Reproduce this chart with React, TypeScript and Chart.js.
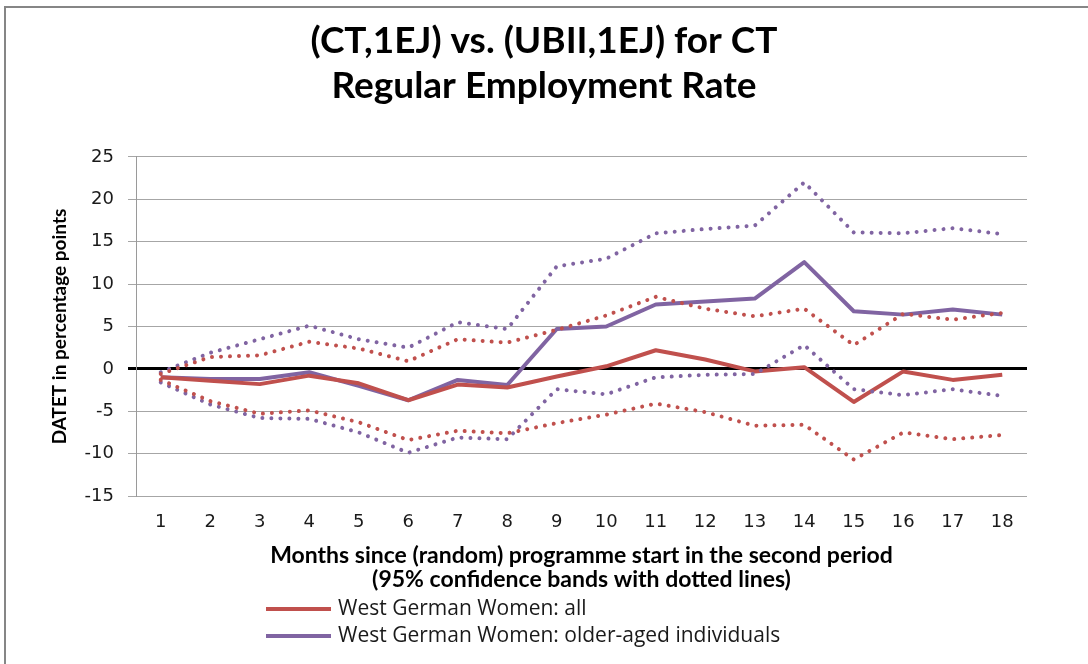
import React, { useEffect, useRef } from "react";
import { Chart, registerables } from "chart.js";

Chart.register(...registerables);

const months = ["1","2","3","4","5","6","7","8","9","10","11","12","13","14","15","16","17","18"];

const allWomen = [-1.0, -1.4, -1.8, -0.8, -1.7, -3.7, -1.85, -2.2, -0.9, 0.3, 2.2, 1.1, -0.3, 0.2, -3.9, -0.3, -1.3, -0.7];
const allUpper = [-0.6, 1.4, 1.6, 3.2, 2.4, 0.9, 3.5, 3.1, 4.6, 6.3, 8.5, 7.1, 6.2, 7.1, 2.8, 6.5, 5.8, 6.6];
const allLower = [-1.3, -3.8, -5.3, -4.9, -6.3, -8.4, -7.3, -7.6, -6.4, -5.4, -4.1, -5.1, -6.7, -6.6, -10.7, -7.5, -8.3, -7.8];

const olderWomen = [-1.0, -1.2, -1.2, -0.4, -2.0, -3.7, -1.3, -1.9, 4.7, 5.0, 7.6, 7.95, 8.3, 12.6, 6.8, 6.4, 7.0, 6.4];
const olderUpper = [-0.4, 1.9, 3.5, 5.1, 3.5, 2.5, 5.5, 4.7, 12.1, 13.0, 16.0, 16.5, 16.9, 22.0, 16.1, 16.0, 16.6, 15.9];
const olderLower = [-1.6, -4.2, -5.8, -5.9, -7.5, -9.9, -8.1, -8.3, -2.4, -3.0, -1.0, -0.7, -0.6, 2.8, -2.4, -3.1, -2.4, -3.2];

const titleLines = ["(CT,1EJ) vs. (UBII,1EJ) for CT", "Regular Employment Rate"];
const xTitleLines = ["Months since (random) programme start in the second period", "(95% confidence bands with dotted lines)"];
const yTitle = "DATET in percentage points";
const legendLabels = ["West German Women: all", "West German Women: older-aged individuals"];

const RED = "#C0504D";
const PURPLE = "#8064A2";

const frameAndLegend = {
  id: "frameAndLegend",
  beforeDraw(chart: any) {
    const ctx = chart.ctx;
    ctx.save();
    ctx.fillStyle = "#ffffff";
    ctx.fillRect(0, 0, chart.width, chart.height);
    ctx.strokeStyle = "#868686";
    ctx.lineWidth = 2;
    ctx.beginPath();
    ctx.moveTo(5, chart.height);
    ctx.lineTo(5, 7);
    ctx.lineTo(chart.width, 7);
    ctx.stroke();
    ctx.restore();
  },
  afterDraw(chart: any) {
    const ctx = chart.ctx;
    const items = chart.data.datasets.filter((d: any) => d.showInLegend);
    ctx.save();
    ctx.font = "21px 'Open Sans'";
    ctx.textBaseline = "middle";
    ctx.textAlign = "left";
    items.forEach((d: any, i: number) => {
      const y = 609 + i * 27;
      ctx.strokeStyle = d.borderColor;
      ctx.lineWidth = 4;
      ctx.lineCap = "butt";
      ctx.beginPath();
      ctx.moveTo(266, y);
      ctx.lineTo(331, y);
      ctx.stroke();
      ctx.fillStyle = "#1a1a1a";
      ctx.fillText(d.label, 338, y);
    });
    ctx.restore();
  },
};

const dotted = (label: string, data: number[], color: string) => ({
  label,
  data,
  borderColor: color,
  backgroundColor: color,
  borderWidth: 4,
  borderDash: [0.01, 9],
  borderCapStyle: "round",
  pointRadius: 0,
  tension: 0,
  fill: false,
  showInLegend: false,
});

const solid = (label: string, data: number[], color: string) => ({
  label,
  data,
  borderColor: color,
  backgroundColor: color,
  borderWidth: 4,
  borderJoinStyle: "round",
  pointRadius: 0,
  tension: 0,
  fill: false,
  showInLegend: true,
});

export default function App() {
  const ref = useRef<HTMLCanvasElement>(null);

  useEffect(() => {
    if (!ref.current) return;
    const chart = new Chart(ref.current, {
      type: "line",
      data: {
        labels: months,
        datasets: [
          dotted("West German Women: all (upper 95%)", allUpper, RED),
          dotted("West German Women: all (lower 95%)", allLower, RED),
          dotted("West German Women: older-aged individuals (upper 95%)", olderUpper, PURPLE),
          dotted("West German Women: older-aged individuals (lower 95%)", olderLower, PURPLE),
          solid(legendLabels[0], allWomen, RED),
          solid(legendLabels[1], olderWomen, PURPLE),
        ] as any,
      },
      options: {
        animation: false,
        responsive: false,
        maintainAspectRatio: false,
        layout: { padding: { left: 0, right: 0, top: 0, bottom: 68 } },
        plugins: {
          legend: { display: false },
          tooltip: { enabled: false },
          title: {
            display: true,
            text: titleLines,
            color: "#000000",
            font: { family: "Lato", weight: "bold", size: 37, lineHeight: 1.216 },
            padding: { top: 19, bottom: 48 },
          },
        },
        scales: {
          x: {
            type: "category",
            offset: true,
            grid: { display: false, drawTicks: false },
            border: { display: false },
            ticks: {
              color: "#1a1a1a",
              font: { family: "DejaVu Sans", size: 18, lineHeight: 1.2 },
              padding: 16,
              maxRotation: 0,
              autoSkip: false,
            },
            title: {
              display: true,
              text: xTitleLines,
              color: "#000000",
              font: { family: "Lato", weight: "bold", size: 23, lineHeight: 1.043 },
              padding: { top: 0, bottom: 4 },
            },
            afterFit: (scale: any) => {
              scale.height = 100;
            },
          },
          y: {
            min: -15,
            max: 25,
            ticks: {
              stepSize: 5,
              color: "#1a1a1a",
              font: { family: "DejaVu Sans", size: 18 },
              padding: 14,
            },
            grid: {
              color: (c: any) => (c.tick && c.tick.value === 0 ? "#000000" : "#A6A6A6"),
              lineWidth: (c: any) => (c.tick && c.tick.value === 0 ? 3 : 1),
              tickLength: 8,
            },
            border: { display: true, color: "#9A9A9A", width: 1 },
            title: {
              display: true,
              text: yTitle,
              color: "#000000",
              font: { family: "Lato", weight: "bold", size: 19, lineHeight: 1.2 },
              padding: { top: 48, bottom: 0 },
            },
            afterFit: (scale: any) => {
              scale.width = 136;
            },
          },
          yRight: {
            type: "linear",
            position: "right",
            min: -15,
            max: 25,
            grid: { display: false, drawTicks: false },
            border: { display: false },
            ticks: { display: false },
            afterFit: (scale: any) => {
              scale.width = 61;
            },
          },
        },
      } as any,
      plugins: [frameAndLegend],
    });
    return () => chart.destroy();
  }, []);

  return (
    <div style={{ position: "absolute", left: 0, top: 0, width: 1088, height: 664 }}>
      <canvas ref={ref} width={1088} height={664} style={{ display: "block", width: 1088, height: 664 }} />
    </div>
  );
}
